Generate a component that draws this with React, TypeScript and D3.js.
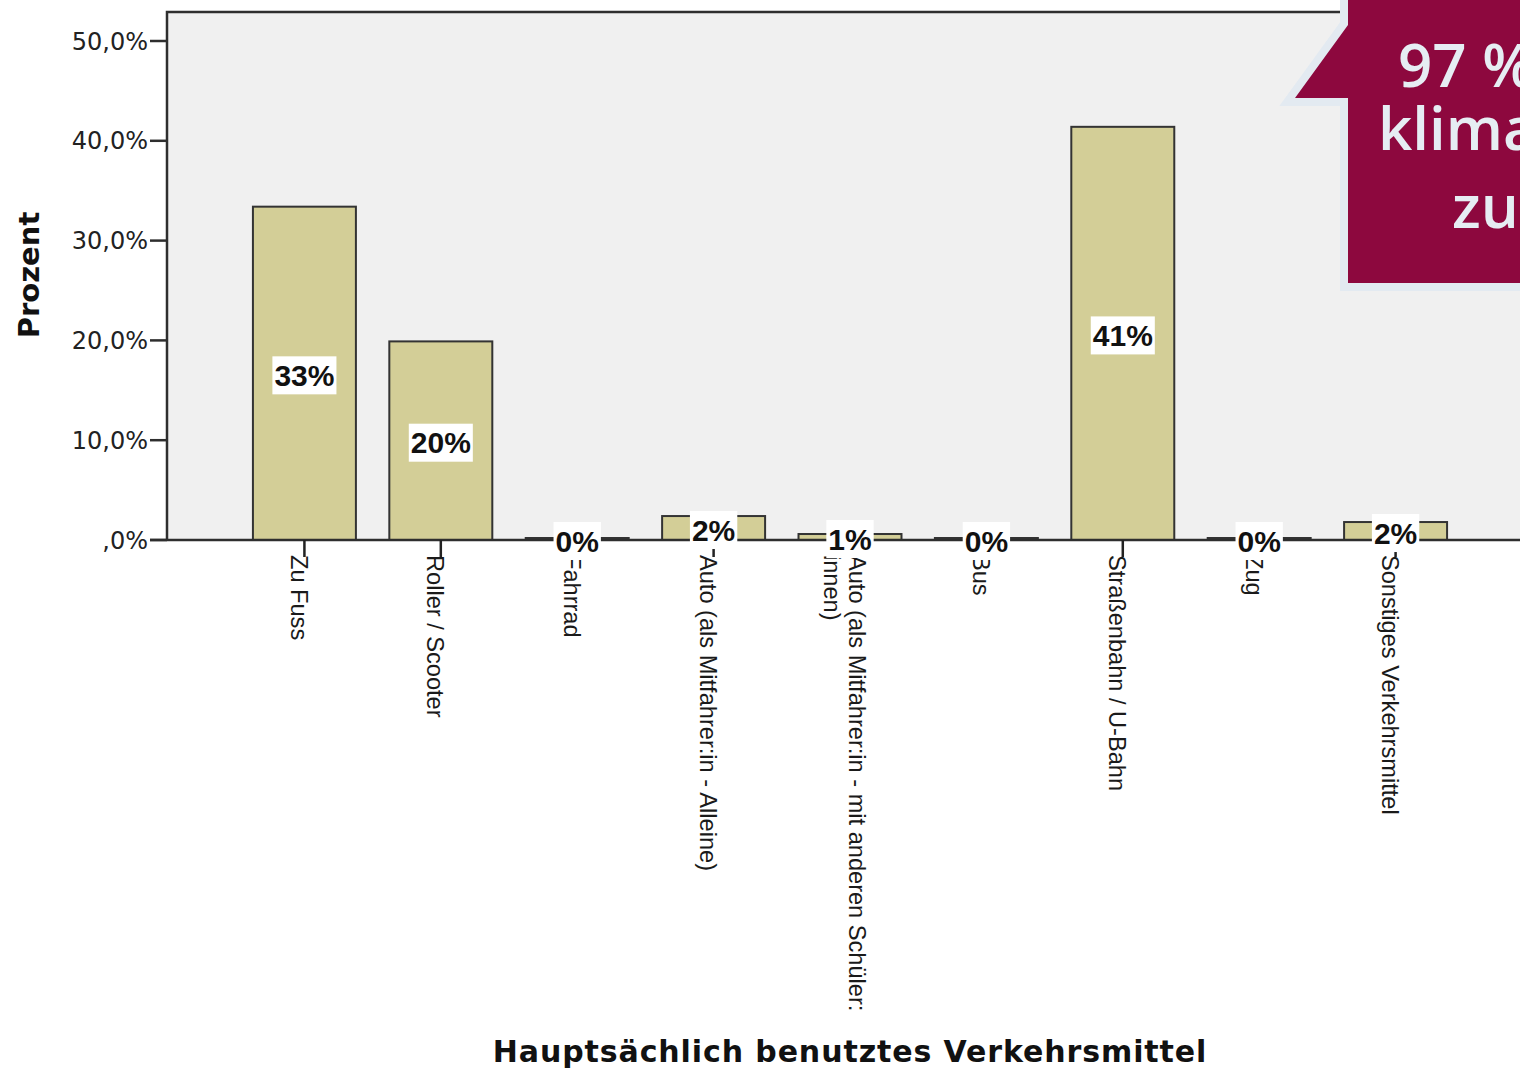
import React, { useEffect, useRef } from "react";
import * as d3 from "d3";

// Hauptsächlich benutztes Verkehrsmittel – share of respondents per mode
const categories = [
  "Zu Fuss",
  "Roller / Scooter",
  "Fahrrad",
  "Auto (als Mitfahrer:in - Alleine)",
  "Auto (als Mitfahrer:in - mit anderen Schüler:innen)",
  "Bus",
  "Straßenbahn / U-Bahn",
  "Zug",
  "Sonstiges Verkehrsmittel",
];

// wrapped axis label lines per category
const categoryLines = [
  ["Zu Fuss"],
  ["Roller / Scooter"],
  ["Fahrrad"],
  ["Auto (als Mitfahrer:in - Alleine)"],
  ["Auto (als Mitfahrer:in - mit anderen Schüler:", "innen)"],
  ["Bus"],
  ["Straßenbahn / U-Bahn"],
  ["Zug"],
  ["Sonstiges Verkehrsmittel"],
];

const percents = [33.4, 19.9, 0.2, 2.4, 0.6, 0.2, 41.4, 0.2, 1.8];

const yTicks = [0, 10, 20, 30, 40, 50];
const yTickLabels = [",0%", "10,0%", "20,0%", "30,0%", "40,0%", "50,0%"];

const badgeLines = ["97 %", "klimafreundlich", "zur Schule"];

const W = 1520;
const H = 1070;

export default function App() {
  const ref = useRef<SVGSVGElement>(null);

  useEffect(() => {
    const svg = d3.select(ref.current);
    svg.selectAll("*").remove();

    const plotLeft = 167;
    const plotRight = 1533;
    const plotTop = 12;

    const x = d3
      .scaleBand<string>()
      .domain(categories)
      .range([plotLeft, plotRight])
      .paddingInner(0.245)
      .paddingOuter(0.63);

    const y = d3.scaleLinear().domain([0, 50]).range([540, 41]);

    svg.append("rect").attr("width", W).attr("height", H).attr("fill", "#ffffff");

    // plot background
    svg
      .append("rect")
      .attr("x", plotLeft)
      .attr("y", plotTop)
      .attr("width", plotRight - plotLeft)
      .attr("height", y(0) - plotTop)
      .attr("fill", "#f0f0f0");

    // frame
    svg
      .append("path")
      .attr("d", `M${plotLeft},${y(0)}V${plotTop}H${plotRight}`)
      .attr("fill", "none")
      .attr("stroke", "#2e2e2e")
      .attr("stroke-width", 2.5);

    // y ticks + labels
    const yg = svg.append("g");
    yTicks.forEach((t, i) => {
      yg.append("line")
        .attr("x1", 150)
        .attr("x2", plotLeft)
        .attr("y1", y(t))
        .attr("y2", y(t))
        .attr("stroke", "#2e2e2e")
        .attr("stroke-width", 2.5);
      yg.append("text")
        .attr("x", 148)
        .attr("y", y(t))
        .attr("dy", "0.36em")
        .attr("text-anchor", "end")
        .attr("font-family", "DejaVu Sans")
        .attr("font-size", 24)
        .attr("fill", "#222")
        .text(yTickLabels[i]);
    });

    // bars
    const bars = svg.append("g");
    categories.forEach((c, i) => {
      const v = percents[i];
      bars
        .append("rect")
        .attr("x", x(c)!)
        .attr("y", y(v))
        .attr("width", x.bandwidth())
        .attr("height", y(0) - y(v))
        .attr("fill", "#d3ce97")
        .attr("stroke", "#333")
        .attr("stroke-width", 2);
    });

    // x axis baseline
    svg
      .append("line")
      .attr("x1", 150)
      .attr("x2", W)
      .attr("y1", y(0))
      .attr("y2", y(0))
      .attr("stroke", "#2e2e2e")
      .attr("stroke-width", 2.5);

    // category labels (rotated)
    const xl = svg.append("g");
    categories.forEach((c, i) => {
      const cx = x(c)! + x.bandwidth() / 2;
      const lines = categoryLines[i];
      const g = xl.append("g").attr("transform", `translate(${cx},555) rotate(90)`);
      lines.forEach((ln, j) => {
        g.append("text")
          .attr("x", 0)
          .attr("y", 13.5 + (j - (lines.length - 1) / 2) * 25)
          .attr("font-family", "Liberation Sans, Arial, sans-serif")
          .attr("font-size", 23.6)
          .attr("fill", "#1a1a1a")
          .text(ln);
      });
    });

    // x ticks
    categories.forEach((c) => {
      const cx = x(c)! + x.bandwidth() / 2;
      svg
        .append("line")
        .attr("x1", cx)
        .attr("x2", cx)
        .attr("y1", y(0))
        .attr("y2", 557)
        .attr("stroke", "#222")
        .attr("stroke-width", 2.5);
    });

    // value labels
    const fmt = (v: number) => `${Math.round(v)}%`;
    const vl = svg.append("g");
    categories.forEach((c, i) => {
      const v = percents[i];
      const cx = x(c)! + x.bandwidth() / 2;
      const cy = (y(v) + y(0)) / 2 + 2;
      const box = vl.append("rect").attr("fill", "#ffffff");
      const t = vl
        .append("text")
        .attr("x", cx)
        .attr("y", cy)
        .attr("dy", 10.8)
        .attr("text-anchor", "middle")
        .attr("font-family", "Liberation Sans, Arial, sans-serif")
        .attr("font-weight", "bold")
        .attr("font-size", 30)
        .attr("fill", "#111")
        .text(fmt(v));
      const w = (t.node() as SVGTextElement).getComputedTextLength();
      box
        .attr("x", cx - w / 2 - 2)
        .attr("y", cy - 19)
        .attr("width", w + 4)
        .attr("height", 38);
    });

    // axis titles
    svg
      .append("text")
      .attr("transform", "translate(39,275) rotate(-90)")
      .attr("text-anchor", "middle")
      .attr("font-family", "DejaVu Sans")
      .attr("font-weight", "bold")
      .attr("font-size", 29)
      .attr("fill", "#111")
      .text("Prozent");

    svg
      .append("text")
      .attr("x", 850)
      .attr("y", 1062)
      .attr("text-anchor", "middle")
      .attr("font-family", "DejaVu Sans")
      .attr("font-weight", "bold")
      .attr("font-size", 30)
      .attr("letter-spacing", 0.9)
      .attr("fill", "#111")
      .text("Hauptsächlich benutztes Verkehrsmittel");

    // callout badge
    const badge = svg.append("g");
    badge
      .append("path")
      .attr("d", "M1348,-10V25L1295,98H1348V283H1540V-10Z")
      .attr("fill", "#8d083e")
      .attr("stroke", "#e3eaf1")
      .attr("stroke-width", 16)
      .attr("stroke-linejoin", "miter")
      .attr("paint-order", "stroke");
    const badgePos = [
      [1398, 87],
      [1378, 150],
      [1452, 228],
    ];
    badgeLines.forEach((s, i) => {
      badge
        .append("text")
        .attr("x", badgePos[i][0])
        .attr("y", badgePos[i][1])
        .attr("font-family", "Open Sans, Noto Sans, sans-serif")
        .attr("font-weight", 600)
        .attr("font-size", 60)
        .attr("fill", "#e6edf3")
        .text(s);
    });
  }, []);

  return (
    <svg
      ref={ref}
      width={W}
      height={H}
      style={{ position: "absolute", left: 0, top: 0, display: "block" }}
    />
  );
}
